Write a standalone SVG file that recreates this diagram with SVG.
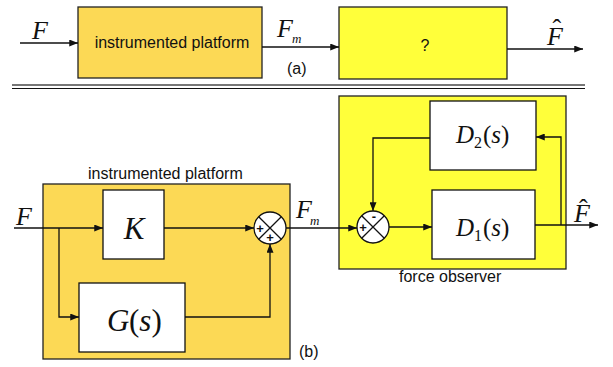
<svg xmlns="http://www.w3.org/2000/svg" width="613" height="367" viewBox="0 0 613 367">
<style>
.plat{fill:#FCD955;stroke:#222;stroke-width:1.3}
.obs{fill:#FFFF3A;stroke:#222;stroke-width:1.3}
.blk{fill:#fff;stroke:#111;stroke-width:1.3}
.ln{fill:none;stroke:#111;stroke-width:1.3}
.sans{font-family:"Liberation Sans",Arial,sans-serif;font-size:16px;fill:#111}
.math{font-family:"Liberation Serif","Times New Roman",serif;fill:#111}
.it{font-style:italic}
.up{font-style:normal}
.sg{font-family:"Liberation Sans",Arial,sans-serif;font-size:13px;font-weight:bold;fill:#111}
</style>
<defs>
<marker id="ah" viewBox="0 0 10 8" refX="10" refY="4" markerWidth="9" markerHeight="7" markerUnits="userSpaceOnUse" orient="auto">
<path d="M0,0 L10,4 L0,8 z" fill="#111"/>
</marker>
</defs>

<!-- (a) top -->
<g id="a-platform">
<rect class="plat" x="78" y="7" width="184" height="71"/>
<text class="sans" x="172" y="48" text-anchor="middle">instrumented platform</text>
</g>
<g id="a-unknown">
<rect class="obs" x="339" y="7" width="168" height="72"/>
<text class="sans" x="425" y="51" text-anchor="middle">?</text>
</g>
<g id="a-labels">
<text class="math it" x="32" y="39" font-size="26">F</text>
<text class="math it" x="277" y="37" font-size="26">F<tspan x="292" dy="6" font-size="13">m</tspan></text>
<text class="sans" x="287" y="74">(a)</text>
<text class="math it" x="547" y="45" font-size="26">F<tspan class="up" x="552.5" dy="-8.5">ˆ</tspan></text>
</g>
<g id="separator">
<line x1="12" y1="85" x2="585" y2="85" stroke="#777" stroke-width="2"/>
<line x1="12" y1="88.5" x2="585" y2="88.5" stroke="#111" stroke-width="1"/>
</g>

<!-- (b) bottom -->
<g id="b-platform">
<rect class="plat" x="43" y="184" width="247" height="175"/>
<text class="sans" x="88" y="179">instrumented platform</text>
<text class="sans" x="299" y="357">(b)</text>
</g>
<g id="b-observer">
<rect class="obs" x="339" y="96" width="227" height="173"/>
<text class="sans" x="399" y="282">force observer</text>
</g>
<g id="K">
<rect class="blk" x="103" y="190" width="61" height="69"/>
<text class="math it" x="134" y="239" font-size="31" text-anchor="middle">K</text>
</g>
<g id="G">
<rect class="blk" x="79" y="283" width="106" height="69"/>
<text class="math" x="107" y="331" font-size="31"><tspan class="it">G</tspan><tspan x="129">(</tspan><tspan class="it">s</tspan>)</text>
</g>
<g id="D2">
<rect class="blk" x="430" y="101" width="106" height="69"/>
<text class="math" x="456" y="143" font-size="25"><tspan class="it">D</tspan><tspan x="474" dy="5" font-size="16">2</tspan><tspan x="483" dy="-5">(</tspan><tspan class="it">s</tspan>)</text>
</g>
<g id="D1">
<rect class="blk" x="432" y="190" width="103" height="69"/>
<text class="math" x="456" y="236" font-size="25"><tspan class="it">D</tspan><tspan x="474" dy="5" font-size="16">1</tspan><tspan x="483" dy="-5">(</tspan><tspan class="it">s</tspan>)</text>
</g>
<g id="sum1">
<circle cx="270" cy="228" r="16" fill="#fff" stroke="#111" stroke-width="1.3"/>
<path class="ln" d="M258.7,216.7 L281.3,239.3 M281.3,216.7 L258.7,239.3"/>
<text class="sg" x="260" y="232.5" text-anchor="middle">+</text>
<text class="sg" x="270" y="242" text-anchor="middle">+</text>
</g>
<g id="sum2">
<circle cx="373" cy="227" r="16" fill="#fff" stroke="#111" stroke-width="1.3"/>
<path class="ln" d="M361.7,215.7 L384.3,238.3 M384.3,215.7 L361.7,238.3"/>
<text class="sg" x="363" y="231.5" text-anchor="middle">+</text>
<text class="sg" x="374" y="221" text-anchor="middle">-</text>
</g>
<g id="b-labels">
<text class="math it" x="16" y="225" font-size="26">F</text>
<text class="math it" x="296" y="218" font-size="26">F<tspan x="310" dy="7" font-size="13">m</tspan></text>
<text class="math it" x="574" y="222" font-size="26">F<tspan class="up" x="579" dy="-5.5">ˆ</tspan></text>
</g>

<g id="connectors">
<line class="ln" x1="20" y1="43" x2="78" y2="43" marker-end="url(#ah)"/>
<line class="ln" x1="262" y1="47" x2="339" y2="47" marker-end="url(#ah)"/>
<line class="ln" x1="507" y1="49" x2="583" y2="49" marker-end="url(#ah)"/>
<line class="ln" x1="14" y1="228" x2="103" y2="228" marker-end="url(#ah)"/>
<polyline class="ln" points="59,228 59,317 79,317" marker-end="url(#ah)"/>
<line class="ln" x1="164" y1="228" x2="254" y2="228" marker-end="url(#ah)"/>
<polyline class="ln" points="185,317 270,317 270,244" marker-end="url(#ah)"/>
<line class="ln" x1="286" y1="228" x2="357" y2="228" marker-end="url(#ah)"/>
<line class="ln" x1="389" y1="227" x2="432" y2="227" marker-end="url(#ah)"/>
<line class="ln" x1="535" y1="225" x2="598" y2="225" marker-end="url(#ah)"/>
<polyline class="ln" points="561,225 561,137 536,137" marker-end="url(#ah)"/>
<polyline class="ln" points="430,138 373,138 373,211" marker-end="url(#ah)"/>
</g>
</svg>
